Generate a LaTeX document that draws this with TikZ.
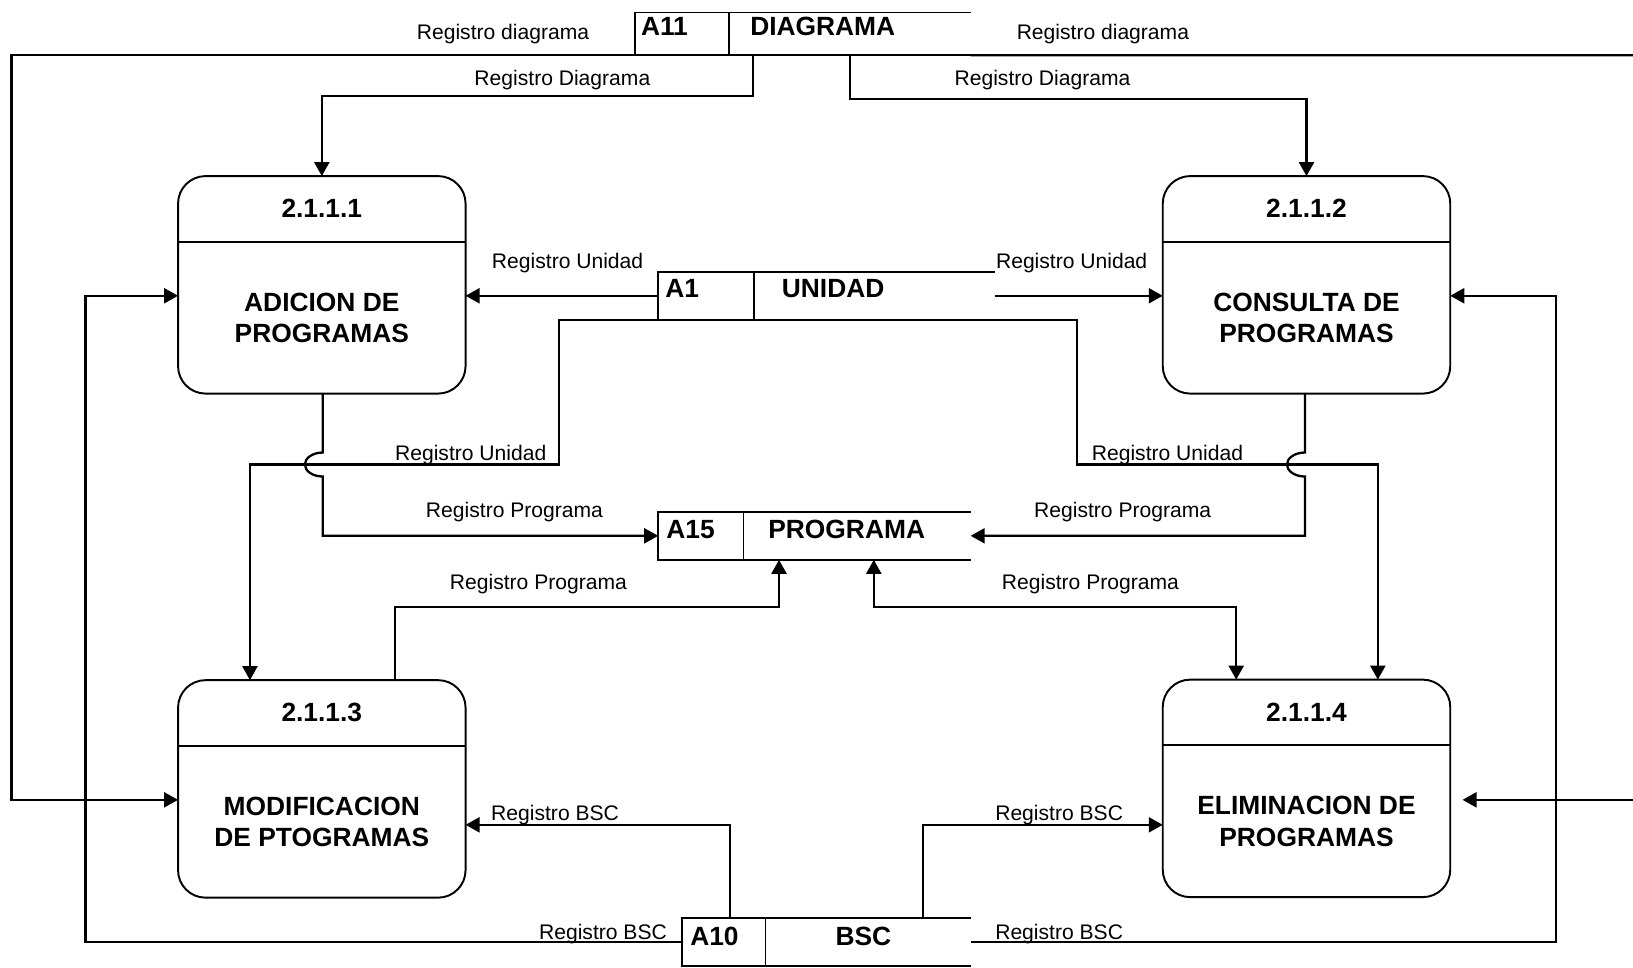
\documentclass[tikz,border=0pt]{standalone}
\usepackage{fontspec}
\setmainfont{Liberation Sans}
\usetikzlibrary{arrows.meta}

\begin{document}
\begin{tikzpicture}[
    x=0.02083cm, y=-0.02083cm,
    proc/.style={draw, line width=1.1pt, rounded corners=0.55cm, minimum width=5.75cm, minimum height=4.35cm, outer sep=0pt},
    ptitle/.style={font=\fontsize{15}{18}\selectfont\bfseries},
    pname/.style={font=\fontsize{15}{17.8}\selectfont\bfseries, align=center},
    store/.style={minimum height=0.96cm, inner sep=0pt, outer sep=0pt},
    sline/.style={line width=1pt},
    sid/.style={font=\fontsize{15}{18}\selectfont\bfseries},
    sname/.style={font=\fontsize{15}{18}\selectfont\bfseries},
    lbl/.style={font=\fontsize{12}{14}\selectfont, inner sep=1pt},
    flow/.style={line width=1.3pt, -{Triangle[length=0.28cm, width=0.3cm]}},
    dflow/.style={line width=1.3pt, {Triangle[length=0.28cm, width=0.3cm]}-{Triangle[length=0.28cm, width=0.3cm]}},
    plain/.style={line width=1.3pt}
]
\useasboundingbox (0,0) rectangle (1568,929);

% procesos
\node[proc] (p1) at (309,273.5) {};
\node[proc] (p2) at (1254.5,273.5) {};
\node[proc] (p3) at (309,757.5) {};
\node[proc] (p4) at (1254.5,757) {};
\foreach \p/\num/\txt in {p1/2.1.1.1/{ADICION DE\\PROGRAMAS},
                          p2/2.1.1.2/{CONSULTA DE\\PROGRAMAS},
                          p3/2.1.1.3/{MODIFICACION\\DE PTOGRAMAS},
                          p4/2.1.1.4/{ELIMINACION DE\\PROGRAMAS}} {
  \draw[line width=1.1pt] ([yshift=-1.31cm]\p.north west) -- ([yshift=-1.31cm]\p.north east);
  \node[ptitle] (\p t) at ([yshift=-0.65cm]\p.north) {\num};
  \node[pname] (\p n) at ([yshift=-0.66cm]\p.center) {\txt};
}

% almacenes
\node[store, minimum width=6.71cm, minimum height=0.854cm] (a11) at (771,32.5) {};
\draw[sline] (a11.north east) -- (a11.north west) -- (a11.south west) -- (a11.south east);
\draw[sline] (a11.north -| 700,0) -- (a11.south -| 700,0);
\node[sid] (a11id) at (638,25) {A11};
\node[sname] (a11nm) at (790,25) {DIAGRAMA};

\node[store, minimum width=6.73cm] (a1) at (793.5,284) {};
\draw[sline] (a1.north east) -- (a1.north west) -- (a1.south west) -- (a1.south east);
\draw[sline] (a1.north -| 724,0) -- (a1.south -| 724,0);
\node[sid] (a1id) at (655,277) {A1};
\node[sname] (a1nm) at (800,277) {UNIDAD};

\node[store, minimum width=6.25cm] (a15) at (782,514.5) {};
\draw[sline] (a15.north east) -- (a15.north west) -- (a15.south west) -- (a15.south east);
\draw[sline] (a15.north -| 714,0) -- (a15.south -| 714,0);
\node[sid] (a15id) at (663,508) {A15};
\node[sname] (a15nm) at (813,508) {PROGRAMA};

\node[store, minimum width=5.77cm] (a10) at (793.5,904.5) {};
\draw[sline] (a10.north east) -- (a10.north west) -- (a10.south west) -- (a10.south east);
\draw[sline] (a10.north -| 735,0) -- (a10.south -| 735,0);
\node[sid] (a10id) at (686,899) {A10};
\node[sname] (a10nm) at (829,899) {BSC};

% extremos en el borde derecho
\coordinate (eTR) at (1568,53);
\coordinate (eBR) at (1568,768);

% flujos de A11
\draw[flow] (a11.south west) -| (11,768) -- (p3.west |- 0,768);
\draw[plain] (a11.south east) -- (eTR);
\draw[flow] (a11.south -| 723,0) |- (p1.north |- 0,92) -- (p1.north);
\draw[flow] (a11.south -| 816,0) |- (p2.north |- 0,95) -- (p2.north);
\node[lbl] (l1) at (483,32.5) {Registro diagrama};
\node[lbl] (l2) at (1059,32.5) {Registro diagrama};
\node[lbl] (l3) at (540,76.5) {Registro Diagrama};
\node[lbl] (l4) at (1001,76.5) {Registro Diagrama};

% flujos de A1
\draw[flow] (a1.west) -- (p1.east |- a1.west);
\draw[flow] (a1.east) -- (p2.west |- a1.east);
\draw[flow] (a1.south west) -| (537,446) -| (p3.north -| 240,0);
\draw[flow] (a1.south east) -| (1034,446) -| (p4.north -| 1323,0);
\node[lbl] (l5) at (545,252.5) {Registro Unidad};
\node[lbl] (l6) at (1029,252.5) {Registro Unidad};
\node[lbl] (l7) at (452,436.5) {Registro Unidad};
\node[lbl] (l8) at (1121,436.5) {Registro Unidad};

% flujos hacia A15
\draw[flow] (p1.south -| 310,0) -- (310,434.5) arc[start angle=90, end angle=270, x radius=0.36cm, y radius=0.24cm] |- (a15.west);
\draw[flow] (p2.south -| 1253,0) -- (1253,434.5) arc[start angle=90, end angle=270, x radius=0.36cm, y radius=0.24cm] |- (a15.east);
\draw[flow] (p3.north -| 379,0) |- (748,583) -- (a15.south -| 748,0);
\draw[dflow] (a15.south -| 839,0) |- (1187,583) -- (p4.north -| 1187,0);
\node[lbl] (l9) at (494,491.5) {Registro Programa};
\node[lbl] (l10) at (1078,491.5) {Registro Programa};
\node[lbl] (l11) at (517,560.5) {Registro Programa};
\node[lbl] (l12) at (1047,560.5) {Registro Programa};

% flujos de A10
\draw[flow] (a10.north -| 701,0) |- (p3.east |- 0,792);
\draw[flow] (a10.north -| 886,0) |- (p4.west |- 0,792);
\draw[flow] (a10.west) -| (82,284) -- (p1.west |- 0,284);
\draw[flow] (a10.east) -| (1494,284) -- (p2.east |- 0,284);
\draw[flow, shorten >=7] (eBR) -- (p4.east |- eBR);
\node[lbl] (l13) at (533,782.5) {Registro BSC};
\node[lbl] (l14) at (1017,782.5) {Registro BSC};
\node[lbl] (l15) at (579,896.5) {Registro BSC};
\node[lbl] (l16) at (1017,896.5) {Registro BSC};
\end{tikzpicture}
\end{document}
